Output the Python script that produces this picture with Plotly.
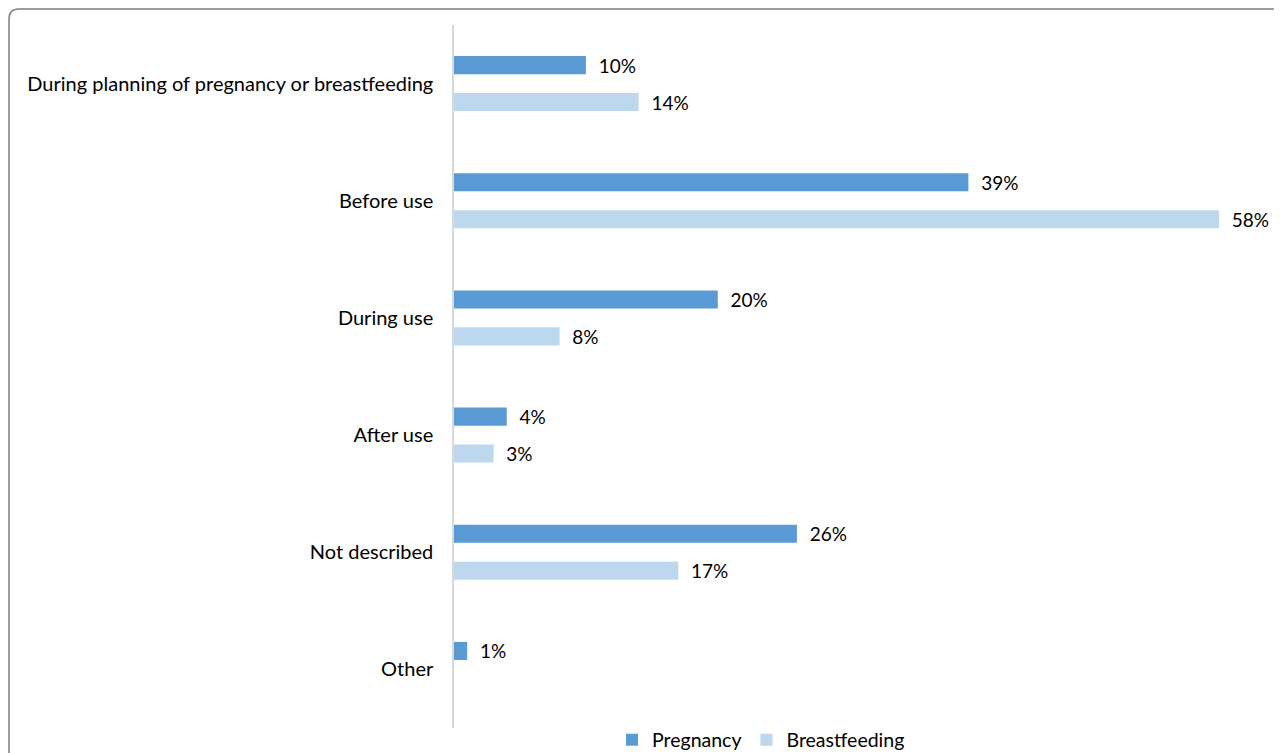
import plotly.graph_objects as go

categories = ["During planning of pregnancy or breastfeeding", "Before use", "During use",
              "After use", "Not described", "Other"]
pregnancy = [10, 39, 20, 4, 26, 1]
breastfeeding = [14, 58, 8, 3, 17, None]

OFF = 8  # page body margin
W, H = 1282, 753
L, R, T, B = 454 - OFF, 39, 25 - OFF, 25 + OFF
pw, ph = W - L - R, H - T - B
px_per_pct = (1219 - 454) / 58.0
xmax = pw / px_per_pct

FONT = "Lato, Open Sans, sans-serif"
NB = "\u00a0"

def lbl(v):
    return [(NB * 2 + f"{x}%") if x is not None else "" for x in v]

fig = go.Figure()
fig.add_trace(go.Bar(
    y=categories, x=pregnancy, name="Pregnancy", orientation="h",
    marker=dict(color="#5B9BD5", line=dict(width=0)),
    text=lbl(pregnancy), textposition="outside", cliponaxis=False, constraintext="none",
    textfont=dict(family=FONT, size=19, color="#000000"),
))
fig.add_trace(go.Bar(
    y=categories, x=breastfeeding, name="Breastfeeding", orientation="h",
    marker=dict(color="#BDD7EE", line=dict(width=0)),
    text=lbl(breastfeeding), textposition="outside", cliponaxis=False, constraintext="none",
    textfont=dict(family=FONT, size=19, color="#000000"),
))

def px2paper(x, y):
    # screen pixel -> paper coords
    return (x - OFF - L) / pw, 1 - (y - OFF - T) / ph

x0, y0 = px2paper(OFF + 1, OFF + 1)
x1, _ = px2paper(1320, 8)
_, yb = px2paper(5, 800)
rx, ry = 10 / pw, 10 / ph
path = (f"M {x0},{yb} L {x0},{y0 - ry} Q {x0},{y0} {x0 + rx},{y0} L {x1},{y0}")

lx, ly = px2paper(761, 740)

fig.update_layout(
    width=W, height=H,
    margin=dict(l=L, r=R, t=T, b=B, autoexpand=False),
    paper_bgcolor="white", plot_bgcolor="white",
    barmode="group", bargap=0.37, bargroupgap=0.51,
    showlegend=True,
    legend=dict(orientation="h", x=lx, y=ly, xanchor="center", yanchor="middle",
                font=dict(family=FONT, size=19.5, color="#000000"),
                traceorder="normal", bgcolor="rgba(0,0,0,0)"),
    xaxis=dict(range=[0, xmax], showgrid=False, zeroline=False, showticklabels=False,
               showline=False, ticks=""),
    yaxis=dict(autorange="reversed", showgrid=False, zeroline=False, showline=True,
               linecolor="#D9D9D9", linewidth=1.5, ticks="", ticklabelstandoff=15,
               tickfont=dict(family=FONT, size=20, color="#000000")),
    shapes=[dict(type="path", path=path, xref="paper", yref="paper",
                 line=dict(color="#7F7F7F", width=1.5))],
    font=dict(family=FONT),
)

fig.write_html("out.html")
